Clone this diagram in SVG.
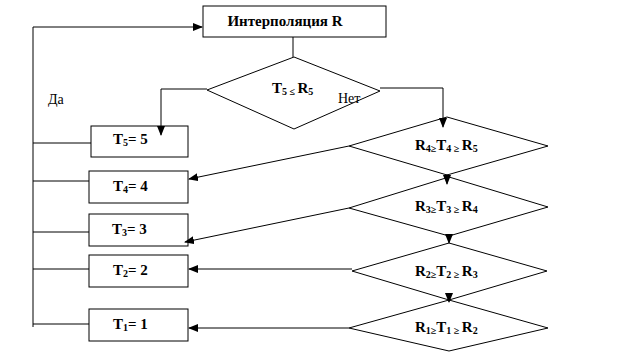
<svg xmlns="http://www.w3.org/2000/svg" width="639" height="364" viewBox="0 0 639 364">
<style>
.box{fill:#fff;stroke:#000;stroke-width:1}
.dia{fill:#fff;stroke:#000;stroke-width:1}
.ln{fill:none;stroke:#000;stroke-width:1}
text{font-family:"Liberation Serif","Times New Roman","DejaVu Serif",serif;fill:#000}
.t{font-size:15px;font-weight:bold}
.n{font-size:14px}
.s{font-size:10px}
</style>
<defs>
<marker id="ah" markerWidth="10" markerHeight="8" refX="9" refY="4" orient="auto" markerUnits="userSpaceOnUse">
<path d="M0,0 L10,4 L0,8 z" fill="#000"/>
</marker>
</defs>
<rect width="639" height="364" fill="#fff"/>
<g id="n-interp">
<rect class="box" x="203" y="6" width="183" height="31"/>
<text class="t" x="285" y="26" text-anchor="middle">Интерполяция R</text>
</g>
<g id="d-t5">
<polygon class="dia" points="294,57 380,91 294,129 207,90"/>
<text class="t" x="272" y="93">T<tspan class="s" dy="2">5 ≤ </tspan><tspan dy="-2">R</tspan><tspan class="s" dy="2">5</tspan></text>
</g>
<text class="n" x="338" y="103">Нет</text>
<text class="n" x="48" y="104">Да</text>
<g id="d-4">
<polygon class="dia" points="447,117 548,146 447,175 349,146"/>
<text class="t" x="415" y="150">R<tspan class="s" dy="2">4≥</tspan><tspan dy="-2">T</tspan><tspan class="s" dy="2">4 ≥ </tspan><tspan dy="-2">R</tspan><tspan class="s" dy="2">5</tspan></text>
</g>
<g id="d-3">
<polygon class="dia" points="449,177 548,207 449,236 349,208"/>
<text class="t" x="415" y="211">R<tspan class="s" dy="2">3≥</tspan><tspan dy="-2">T</tspan><tspan class="s" dy="2">3 ≥ </tspan><tspan dy="-2">R</tspan><tspan class="s" dy="2">4</tspan></text>
</g>
<g id="d-2">
<polygon class="dia" points="449,243 547,271 449,300 352,271"/>
<text class="t" x="415" y="276">R<tspan class="s" dy="2">2≥</tspan><tspan dy="-2">T</tspan><tspan class="s" dy="2">2 ≥ </tspan><tspan dy="-2">R</tspan><tspan class="s" dy="2">3</tspan></text>
</g>
<g id="d-1">
<polygon class="dia" points="449,300 548,328 449,351 349,328"/>
<text class="t" x="415" y="332">R<tspan class="s" dy="2">1≥</tspan><tspan dy="-2">T</tspan><tspan class="s" dy="2">1 ≥ </tspan><tspan dy="-2">R</tspan><tspan class="s" dy="2">2</tspan></text>
</g>
<g id="b-t5">
<rect class="box" x="91" y="126" width="97" height="31"/>
<text class="t" x="113" y="144">T<tspan class="s" dy="2">5</tspan><tspan dy="-2">= 5</tspan></text>
</g>
<g id="b-t4">
<rect class="box" x="89" y="171" width="99" height="32"/>
<text class="t" x="113" y="191">T<tspan class="s" dy="2">4</tspan><tspan dy="-2">= 4</tspan></text>
</g>
<g id="b-t3">
<rect class="box" x="89" y="214" width="99" height="32"/>
<text class="t" x="112" y="234">T<tspan class="s" dy="2">3</tspan><tspan dy="-2">= 3</tspan></text>
</g>
<g id="b-t2">
<rect class="box" x="89" y="255" width="99" height="32"/>
<text class="t" x="113" y="275">T<tspan class="s" dy="2">2</tspan><tspan dy="-2">= 2</tspan></text>
</g>
<g id="b-t1">
<rect class="box" x="89" y="309" width="99" height="32"/>
<text class="t" x="113" y="329">T<tspan class="s" dy="2">1</tspan><tspan dy="-2">= 1</tspan></text>
</g>
<g id="connectors">
<polyline class="ln" points="33,327 33,27 202,27" marker-end="url(#ah)"/>
<line class="ln" x1="33" y1="143" x2="91" y2="143"/>
<line class="ln" x1="33" y1="181" x2="89" y2="181"/>
<line class="ln" x1="33" y1="232" x2="89" y2="232"/>
<line class="ln" x1="33" y1="269" x2="89" y2="269"/>
<line class="ln" x1="33" y1="324" x2="89" y2="324"/>
<line class="ln" x1="293" y1="37" x2="293" y2="57"/>
<polyline class="ln" points="207,89 161,89 161,135" marker-end="url(#ah)"/>
<polyline class="ln" points="380,88 443,88 443,127" marker-end="url(#ah)"/>
<line class="ln" x1="349" y1="146" x2="189" y2="179" marker-end="url(#ah)"/>
<line class="ln" x1="349" y1="208" x2="185" y2="242" marker-end="url(#ah)"/>
<line class="ln" x1="352" y1="269" x2="189" y2="269" marker-end="url(#ah)"/>
<line class="ln" x1="349" y1="328" x2="189" y2="328" marker-end="url(#ah)"/>
<line class="ln" x1="447" y1="174" x2="447" y2="184" marker-end="url(#ah)"/>
<line class="ln" x1="449" y1="235" x2="449" y2="243" marker-end="url(#ah)"/>
<line class="ln" x1="449" y1="293" x2="449" y2="302" marker-end="url(#ah)"/>
</g>
</svg>
